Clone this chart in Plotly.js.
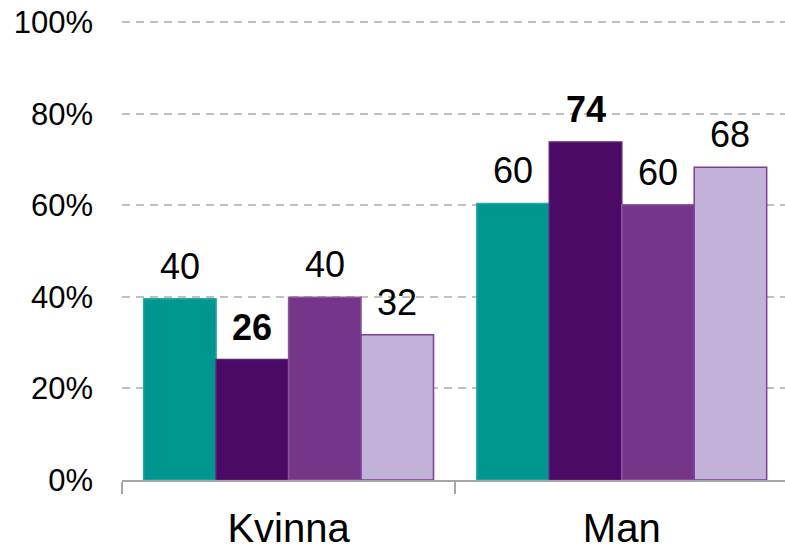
<!DOCTYPE html>
<html>
<head>
<meta charset="utf-8">
<script src="https://cdn.plot.ly/plotly-3.0.1.min.js"></script>
<style>html,body{margin:0;padding:0;background:#fff;}#chart{width:785px;height:551px;}</style>
</head>
<body>
<div id="chart"></div>
<script>
const categories = ["Kvinna", "Man"];
const seriesNames = ["Serie 1", "Serie 2", "Serie 3", "Serie 4"];
const s1 = [39.6, 60.4];
const s2 = [26.3, 73.8];
const s3 = [39.9, 60.1];
const s4 = [31.7, 68.3];
const labels1 = ["40", "60"];
const labels2 = ["26", "74"];
const labels3 = ["40", "60"];
const labels4 = ["32", "68"];
const yTicks = [0, 20, 40, 60, 80, 100];

const series = [s1, s2, s3, s4];
const labels = [labels1, labels2, labels3, labels4];
const fills = ["#009690", "#4a0a66", "#753689", "#c3b2d8"];
const lines = ["#2aa7a1", "#5a1f77", "#8a56a0", "#7a3f98"];
const bold = [false, true, false, false];
const bargap = 0.13;
const font = "Liberation Sans, Arial, sans-serif";

const traces = series.map((vals, j) => ({
  type: "bar",
  name: seriesNames[j],
  x: categories,
  y: vals,
  marker: {color: fills[j], line: {color: lines[j], width: 1.5}},
  hoverinfo: "skip"
}));

const annotations = [];
series.forEach((vals, j) => {
  vals.forEach((v, i) => {
    annotations.push({
      x: i + (j - 1.5) * (1 - bargap) / series.length,
      y: v,
      xref: "x", yref: "y",
      text: bold[j] ? "<b>" + labels[j][i] + "</b>" : labels[j][i],
      showarrow: false,
      yanchor: "bottom",
      yshift: 10,
      font: {family: font, size: 36, color: "#000"}
    });
  });
});

const layout = {
  width: 785, height: 551,
  margin: {l: 122, r: 0, t: 21, b: 71},
  paper_bgcolor: "#fff", plot_bgcolor: "#fff",
  showlegend: false,
  barmode: "group",
  bargap: bargap,
  bargroupgap: 0,
  xaxis: {
    type: "category",
    range: [-0.5, 1.49],
    tickson: "boundaries",
    ticks: "outside", ticklen: 12, tickwidth: 2, tickcolor: "#a6a6a6",
    showline: true, linecolor: "#a6a6a6", linewidth: 2,
    showgrid: false, zeroline: false,
    ticklabelstandoff: 12,
    tickfont: {family: font, size: 40, color: "#000"}
  },
  yaxis: {
    range: [0, 100.25],
    tickvals: yTicks,
    ticktext: yTicks.map(t => t + "%"),
    showline: false,
    showgrid: true, gridcolor: "#c0c0c0", gridwidth: 2, griddash: "8px,6px",
    zeroline: false,
    ticks: "", ticklabelstandoff: 28,
    tickfont: {family: font, size: 31, color: "#000"}
  },
  annotations: annotations
};

Plotly.newPlot("chart", traces, layout, {staticPlot: true, displayModeBar: false});
</script>
</body>
</html>
